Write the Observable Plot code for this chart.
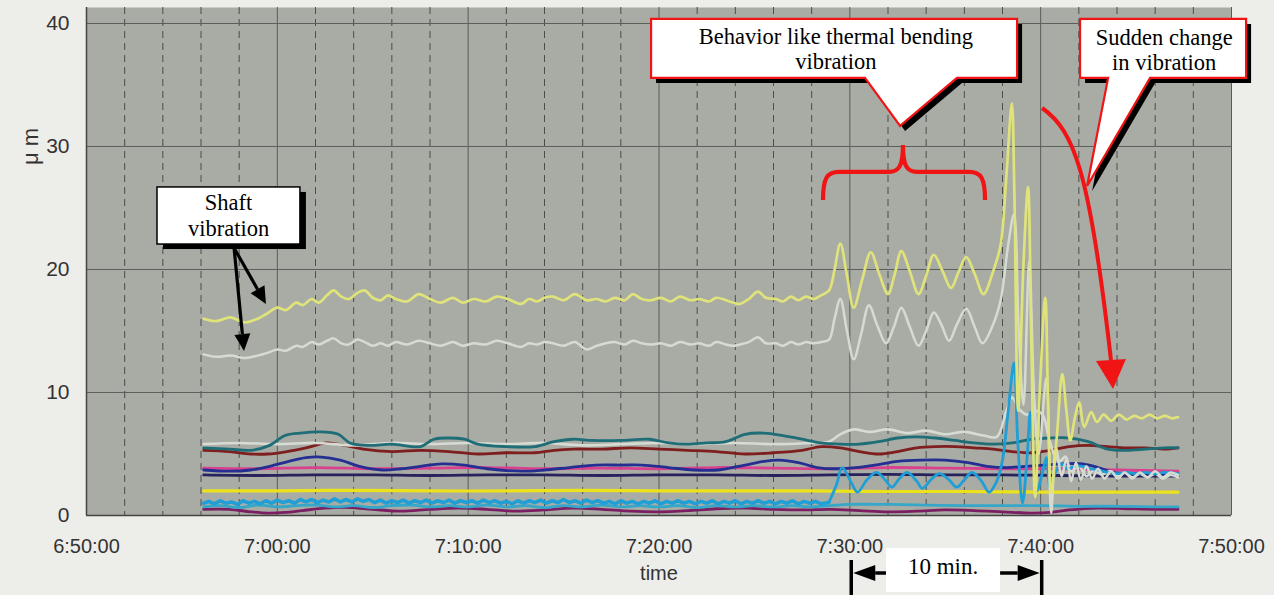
<!DOCTYPE html>
<html><head><meta charset="utf-8">
<script src="https://cdn.jsdelivr.net/npm/d3@7"></script>
<script src="https://cdn.jsdelivr.net/npm/@observablehq/plot@0.6"></script>
<style>
html,body{margin:0;padding:0;background:#ededea;}
#chart{width:1274px;height:595px;overflow:hidden;position:relative}
</style></head><body><div id="chart"></div>
<script>
// time = minutes after 6:50:00, value = vibration in μm
const xTickLabels = ["6:50:00","7:00:00","7:10:00","7:20:00","7:30:00","7:40:00","7:50:00"];
const xTickMinutes = [0,10,20,30,40,50,60];
const yTicks = [0,10,20,30,40];

const shaftYellow = [[6.14,16.0],[6.8,15.8],[7.55,16.1],[8.3,15.7],[8.97,16.0],[9.44,16.4],[10.0,16.9],[10.44,16.7],[11.0,17.3],[11.33,17.1],[11.8,17.6],[12.17,17.3],[12.6,17.9],[12.95,18.3],[13.35,17.8],[13.74,17.6],[14.2,18.1],[14.58,18.3],[15.0,17.7],[15.42,17.5],[15.8,17.9],[16.2,17.6],[16.8,17.4],[17.41,18.0],[18.0,17.6],[18.56,17.3],[19.2,17.7],[19.72,17.3],[20.3,17.6],[20.92,17.4],[21.5,17.8],[22.08,17.6],[22.76,17.2],[23.2,17.6],[23.6,17.4],[24.0,17.7],[24.44,17.8],[25.0,17.5],[25.59,18.0],[26.2,17.5],[26.74,17.6],[27.2,17.4],[27.69,17.7],[28.2,17.5],[28.63,18.0],[29.1,17.6],[29.58,17.5],[30.1,17.7],[30.62,17.4],[31.1,17.8],[31.67,17.5],[32.1,17.6],[32.62,17.4],[33.0,17.7],[33.51,17.5],[33.9,17.3],[34.24,17.2],[34.7,17.6],[35.19,18.2],[35.6,17.7],[36.13,17.6],[36.5,17.4],[36.92,17.8],[37.3,17.5],[37.7,17.8],[38.1,17.6],[38.49,17.9],[38.91,18.3],[39.2,20.0],[39.5,22.1],[39.85,19.5],[40.2,16.9],[40.65,19.2],[41.1,21.4],[41.55,19.6],[42.0,18.0],[42.35,19.6],[42.7,21.5],[43.15,19.8],[43.6,18.0],[44.0,19.5],[44.4,21.2],[44.85,19.9],[45.3,18.5],[45.7,19.8],[46.1,21.0],[46.55,19.6],[47.0,18.0],[47.5,19.8],[47.9,22.0],[48.2,27.5],[48.49,33.5],[48.62,26.4],[48.82,8.5],[49.1,20.5],[49.34,26.7],[49.5,15.0],[49.71,1.5],[49.95,10.0],[50.24,17.7],[50.4,8.0],[50.55,1.8],[50.85,6.5],[51.13,11.5],[51.35,8.5],[51.55,6.1],[51.8,8.0],[52.02,9.2],[52.28,7.2],[52.65,8.4],[52.95,7.6],[53.3,8.2],[53.7,7.7],[54.1,8.2],[54.5,7.8],[54.9,8.1],[55.3,7.9],[55.7,8.2],[56.1,7.9],[56.5,8.1],[56.9,7.9],[57.2,8.0]];

const shaftWhite = [[6.14,13.1],[6.8,12.9],[7.55,13.0],[8.3,12.8],[8.97,13.0],[9.44,13.2],[10.0,13.5],[10.44,13.4],[11.0,13.8],[11.33,13.7],[11.8,14.1],[12.17,13.9],[12.6,14.2],[12.95,14.4],[13.35,14.0],[13.74,13.9],[14.2,14.3],[14.58,14.1],[15.0,13.8],[15.42,14.0],[15.8,13.8],[16.2,14.1],[16.8,13.9],[17.41,14.2],[18.0,14.0],[18.56,13.8],[19.2,14.1],[19.72,13.8],[20.3,14.0],[20.92,13.9],[21.5,14.2],[22.08,14.0],[22.76,13.7],[23.2,14.0],[23.6,13.9],[24.0,14.1],[24.44,14.0],[25.0,13.8],[25.59,14.1],[26.2,13.5],[26.74,13.8],[27.2,14.0],[27.69,14.1],[28.2,13.9],[28.63,14.2],[29.1,14.0],[29.58,13.9],[30.1,14.0],[30.62,13.8],[31.1,14.1],[31.67,13.9],[32.1,14.0],[32.62,13.8],[33.0,14.1],[33.51,13.9],[33.9,13.8],[34.24,13.9],[34.7,14.1],[35.19,14.5],[35.6,14.0],[36.13,14.0],[36.5,13.8],[36.92,14.1],[37.3,13.9],[37.7,14.1],[38.1,14.0],[38.49,14.1],[38.91,14.3],[39.2,16.0],[39.5,17.6],[39.85,15.0],[40.2,12.7],[40.6,14.8],[41.0,17.1],[41.45,15.4],[41.9,14.0],[42.3,15.3],[42.7,16.9],[43.15,15.3],[43.6,13.8],[44.0,15.0],[44.4,16.5],[44.8,15.5],[45.2,14.2],[45.6,15.5],[46.1,16.8],[46.55,15.3],[46.95,14.0],[47.5,15.5],[47.9,17.5],[48.3,22.0],[48.6,24.5],[48.85,15.0],[49.1,9.0],[49.4,20.7],[49.65,10.0],[49.9,5.0],[50.3,11.2],[50.55,0.2],[50.8,5.5],[51.1,3.2],[51.35,4.6],[51.6,2.8],[51.85,4.3],[52.1,2.9],[52.4,4.0],[52.7,3.0],[53.0,3.8],[53.35,3.0],[53.7,3.6],[54.05,3.0],[54.4,3.5],[54.8,3.0],[55.2,3.5],[55.6,3.1],[56.0,3.6],[56.4,3.1],[56.8,3.5],[57.2,3.3]];

const lowWhite = [[6.14,5.8],[8,5.9],[10,5.8],[12,5.9],[14,5.7],[16,5.9],[18,5.8],[20,5.9],[22,5.8],[24,5.9],[26,5.7],[28,5.8],[30,5.9],[32,5.8],[34,5.9],[36,5.8],[38,5.9],[38.9,6.0],[39.5,6.6],[40.2,7.0],[41,6.8],[42,7.0],[43,6.7],[44,6.9],[45,6.6],[46,6.8],[47,6.5],[47.7,6.4],[48.2,8.5],[48.5,9.6],[48.9,8.6],[49.3,8.2],[49.7,8.5],[50.1,8.2],[50.4,6.5],[50.7,5.0],[51.0,4.4],[51.3,4.8],[51.6,3.6],[52.0,4.0],[52.4,3.2],[52.8,3.7],[53.2,3.3],[53.6,3.6],[54,3.2],[54.4,3.5],[54.8,3.1],[55.2,3.4],[55.6,3.1],[56.0,3.4],[56.4,3.0],[56.8,3.3],[57.2,3.1]];

const teal = [[6.14,5.5],[7.5,5.4],[8.6,5.3],[9.6,5.7],[10.4,6.5],[11.2,6.7],[12.2,6.8],[13.2,6.6],[13.8,5.9],[14.8,5.7],[16.0,5.8],[17.5,5.6],[18.2,6.2],[19.0,6.3],[19.8,6.2],[20.5,5.8],[22,5.6],[23.5,5.6],[24.5,6.0],[25.5,6.2],[26.5,6.1],[28,6.1],[29.5,6.2],[30.5,5.9],[31.5,5.8],[32.5,5.9],[33.5,6.0],[34.5,6.6],[35.5,6.7],[36.5,6.5],[37.5,6.2],[38.5,5.9],[39.5,5.8],[40.5,5.8],[41.5,6.0],[42.5,6.3],[43.5,6.4],[44.5,6.3],[45.5,6.1],[46.5,5.9],[47.5,5.8],[48.5,5.9],[49.5,6.2],[50.5,6.3],[51.5,6.3],[52.5,6.0],[53.5,5.4],[54.5,5.3],[55.5,5.4],[56.5,5.5],[57.2,5.5]];

const darkRed = [[6.14,5.3],[7.5,5.2],[8.6,5.0],[9.5,5.0],[10.5,5.2],[11.5,5.5],[12.6,5.9],[13.5,5.7],[14.5,5.4],[16,5.2],[17.5,5.3],[19,5.2],[20.5,5.0],[22,5.1],[23.5,5.1],[24.5,5.3],[25.5,5.4],[27,5.4],[28.5,5.5],[30,5.4],[31.5,5.3],[33,5.2],[34.5,5.0],[36,5.1],[37.5,5.3],[38.5,5.6],[39.5,5.5],[40.5,5.2],[41.5,5.0],[42.5,5.2],[43.5,5.5],[44.5,5.6],[45.5,5.6],[46.5,5.5],[47.5,5.4],[48.5,5.2],[49.5,5.1],[50.5,5.3],[51.5,5.6],[52.5,5.7],[53.5,5.6],[54.5,5.5],[55.5,5.5],[56.5,5.4],[57.2,5.5]];

const navyWave = [[6.14,3.7],[7.5,3.6],[8.6,3.7],[9.6,4.0],[10.6,4.4],[11.5,4.7],[12.3,4.75],[13.3,4.5],[14.3,4.0],[15.5,3.7],[16.5,3.8],[17.5,4.0],[18.6,4.2],[19.8,4.1],[21.0,3.8],[22.8,3.6],[24.0,3.7],[25.3,3.9],[26.7,4.1],[28.0,4.1],[29.1,4.1],[30.5,3.9],[31.8,3.7],[33.1,3.7],[34.5,4.1],[35.5,4.4],[36.3,4.5],[37.3,4.3],[38.3,3.9],[39.2,3.8],[40.3,3.9],[41.3,4.1],[42.5,4.4],[43.7,4.5],[45.0,4.5],[46.2,4.3],[47.2,4.0],[48.2,3.9],[49.2,4.0],[50.2,4.1],[51.2,4.2],[52.2,4.2],[53.0,3.9],[53.8,3.5],[54.6,3.4],[55.5,3.4],[56.4,3.4],[57.2,3.4]];

const magenta = [[6.14,3.85],[9,3.8],[12,3.9],[15,3.8],[18,3.85],[21,3.9],[24,3.8],[27,3.85],[30,3.8],[33,3.9],[36,3.85],[39,3.8],[42,3.9],[45,3.85],[48,3.8],[51,3.8],[54,3.7],[57.2,3.6]];

const navyFlat = [[6.14,3.3],[9,3.25],[12,3.3],[15,3.3],[18,3.25],[21,3.3],[24,3.3],[27,3.25],[30,3.3],[33,3.3],[36,3.25],[39,3.3],[42,3.35],[45,3.3],[48,3.3],[51,3.25],[54,3.2],[57.2,3.2]];

const yellow = [[6.14,2.0],[10,2.0],[14,2.05],[18,2.0],[22,2.0],[26,2.05],[30,2.0],[34,2.0],[38,2.0],[42,1.95],[46,1.95],[50,1.9],[54,1.9],[57.2,1.9]];

const cyanNoisy = [[6.14,1.0],[6.4,1.15],[6.7,0.95],[7.0,1.2],[7.3,1.0],[7.6,1.1],[7.9,0.9],[8.2,1.2],[8.5,1.0],[8.8,1.15],[9.1,0.95],[9.4,1.2],[9.7,1.0],[10.0,1.25],[10.3,1.05],[10.6,1.2],[10.9,1.0],[11.2,1.3],[11.5,1.1],[11.8,1.3],[12.1,1.05],[12.4,1.25],[12.7,1.1],[13.0,1.35],[13.3,1.1],[13.6,1.3],[13.9,1.1],[14.2,1.35],[14.5,1.15],[14.8,1.3],[15.1,1.05],[15.4,1.25],[15.7,1.0],[16.0,1.2],[16.3,1.05],[16.6,1.25],[16.9,1.0],[17.2,1.2],[17.5,1.05],[17.8,1.25],[18.1,1.0],[18.4,1.2],[18.7,1.05],[19.0,1.25],[19.3,1.0],[19.6,1.2],[19.9,1.05],[20.2,1.2],[20.5,1.0],[20.8,1.25],[21.1,1.05],[21.4,1.2],[21.7,1.0],[22.0,1.15],[22.3,0.95],[22.6,1.2],[22.9,1.0],[23.2,1.2],[23.5,1.05],[23.8,1.25],[24.1,1.0],[24.4,1.2],[24.7,1.05],[25.0,1.3],[25.3,1.05],[25.6,1.2],[25.9,1.0],[26.2,1.25],[26.5,1.05],[26.8,1.2],[27.1,1.0],[27.4,1.15],[27.7,0.95],[28.0,1.2],[28.3,1.0],[28.6,1.15],[28.9,0.95],[29.2,1.15],[29.5,1.0],[29.8,1.2],[30.1,0.95],[30.4,1.15],[30.7,1.0],[31.0,1.2],[31.3,1.0],[31.6,1.15],[31.9,0.95],[32.2,1.15],[32.5,1.0],[32.8,1.2],[33.1,0.95],[33.4,1.15],[33.7,1.0],[34.0,1.2],[34.3,0.95],[34.6,1.15],[34.9,1.0],[35.2,1.2],[35.5,1.0],[35.8,1.15],[36.1,0.95],[36.4,1.15],[36.7,1.0],[37.0,1.2],[37.3,0.95],[37.6,1.15],[37.9,1.0],[38.2,1.15],[38.5,0.95],[38.9,1.05],[39.3,2.5],[39.6,3.9],[40.1,2.6],[40.4,1.9],[40.9,2.9],[41.4,3.5],[41.9,2.8],[42.2,2.3],[42.6,3.0],[43.0,3.5],[43.5,2.8],[43.8,2.2],[44.3,3.0],[44.7,3.4],[45.2,2.9],[45.6,2.3],[46.0,2.9],[46.4,3.5],[46.9,2.8],[47.3,1.9],[47.7,2.8],[48.0,4.5],[48.3,8.5],[48.6,12.4],[48.8,6.0],[49.05,1.0],[49.3,5.0],[49.45,8.4],[49.6,5.0],[49.8,2.0],[50.1,3.5],[50.3,4.7],[50.5,2.3],[50.8,3.6],[51.1,4.2],[51.4,3.8],[51.8,4.0],[52.2,4.0],[52.6,3.8],[53.0,3.7],[53.5,3.5],[54,3.4],[54.5,3.5],[55,3.4],[55.5,3.5],[56,3.4],[56.5,3.5],[57.2,3.4]];

const cyanLow = [[6.14,0.7],[7,0.8],[8,0.65],[9,0.85],[10,0.7],[11,0.8],[12,0.85],[13,0.7],[14,0.8],[15,0.65],[16,0.8],[17,0.85],[18,0.7],[19,0.8],[20,0.7],[21,0.85],[22,0.7],[23,0.8],[24,0.65],[25,0.8],[26,0.7],[27,0.85],[28,0.7],[29,0.8],[30,0.7],[31,0.8],[32,0.65],[33,0.8],[34,0.7],[35,0.8],[36,0.7],[37,0.8],[38,0.7],[39,0.8],[40,0.9],[42,0.9],[44,0.85],[46,0.8],[48,0.8],[50,0.8],[52,0.75],[54,0.75],[56,0.7],[57.2,0.7]];

const purple = [[6.14,0.5],[7.5,0.5],[8.6,0.3],[9.5,0.2],[10.4,0.25],[11.3,0.4],[12.5,0.6],[13.8,0.65],[15,0.5],[16.5,0.35],[18,0.5],[19.5,0.6],[21,0.5],[22.5,0.35],[24,0.45],[25.5,0.6],[27,0.5],[28.5,0.35],[30,0.3],[31.5,0.4],[33,0.55],[34.5,0.6],[36,0.5],[37.5,0.45],[39,0.5],[40.5,0.4],[42,0.3],[43.5,0.35],[45,0.45],[46.5,0.4],[48,0.3],[49.5,0.2],[50.5,0.25],[51.5,0.45],[53,0.6],[54.5,0.55],[56,0.5],[57.2,0.5]];

// annotation anchors in data units [minutes after 6:50, μm]
const shaftBox = {t0:3.72, t1:11.21, vTop:26.67, vBot:22.03, tText:7.47, vLines:[24.8,22.72], lines:["Shaft","vibration"]};
const shaftArrowStart = [7.76, 21.71];
const shaftArrowTips = [[9.43,17.15],[8.28,13.33]];
const thermalBox = {t0:29.61, t1:48.79, vTop:40.33, vBot:35.53, pb0:40.82, pb1:45.64, tip:[42.66,31.63], tText:39.3, vLines:[38.29,36.22], lines:["Behavior like thermal bending","vibration"]};
const suddenBox = {t0:52.09, t1:60.79, vTop:40.33, vBot:35.53, pb0:53.56, pb1:55.76, tip:[52.46,26.75], tText:56.5, vLines:[38.21,36.14], lines:["Sudden change","in vibration"]};
const brace = {tL:38.62, tR:47.11, vEnd:25.61, vBar:27.89, tMid:42.81, vTip:30.08};
const redArrow = {start:[50.1,33.09], c1:[51.83,31.22], c2:[52.61,27.64], end:[53.71,12.6], tip:[53.82,10.24]};
const tenMin = {tBarL:40.1, tBarR:50.08, vBarTop:-3.66, vBarBot:-7, vLine:-4.72, box:[41.92,47.9,-2.68,-6.26], tText:44.91, vText:-4.8, label:"10 min."};

const T0 = Date.UTC(2000,0,1,6,50,0);
const toDate = m => new Date(T0 + m*60000);
const rows = arr => arr.map(([t,v]) => ({time: toDate(t), value: v}));

const series = [
  {d: purple, c:"#7b1f62", w:2.8},
  {d: cyanLow, c:"#36a7c9", w:2.8},
  {d: yellow, c:"#ece21c", w:3.2},
  {d: navyFlat, c:"#27215e", w:2.8},
  {d: magenta, c:"#d8418d", w:2.8},
  {d: navyWave, c:"#252f91", w:2.8},
  {d: darkRed, c:"#7e1e1e", w:2.8},
  {d: lowWhite, c:"#d6dbd4", w:2.6},
  {d: teal, c:"#1e6d77", w:2.8},
];

const minor = d3.range(0, 61, 2).filter(m => m % 10 !== 0).map(toDate);
const major = xTickMinutes.map(toDate);

const chart = Plot.plot({
  width: 1274, height: 595,
  marginLeft: 86, marginRight: 43, marginTop: 7, marginBottom: 80,
  x: {type: "utc", domain: [toDate(0), toDate(60)]},
  y: {domain: [0, 41.3]},
  style: {background: "transparent", fontFamily: "'Liberation Sans', Arial, sans-serif", color: "#333", overflow: "visible"},
  marks: [
    Plot.frame({fill: "#a8aca5", stroke: null}),
    Plot.ruleX(minor, {stroke: "#4b4d4a", strokeWidth: 1, strokeDasharray: "7,5"}),
    Plot.ruleX(major, {stroke: "#5a5c58", strokeWidth: 1}),
    Plot.ruleY([10,20,30,40], {stroke: "#5e605c", strokeWidth: 1}),
    ...series.map(s => Plot.line(rows(s.d), {x: "time", y: "value", stroke: s.c, strokeWidth: s.w, curve: "catmull-rom"})),
    Plot.line(rows(cyanNoisy.filter(d => d[0] <= 38.95)), {x: "time", y: "value", stroke: "#1f9fd6", strokeWidth: 3.6, curve: "linear"}),
    Plot.line(rows(cyanNoisy.filter(d => d[0] >= 38.85)), {x: "time", y: "value", stroke: "#1f9fd6", strokeWidth: 2.8, curve: "catmull-rom"}),
    Plot.line(rows(shaftWhite), {x: "time", y: "value", stroke: "#d6dbd2", strokeWidth: 2.5, curve: "catmull-rom"}),
    Plot.line(rows(shaftYellow), {x: "time", y: "value", stroke: "#dfe37a", strokeWidth: 2.7, curve: "catmull-rom"}),
    Plot.ruleX([toDate(0)], {stroke: "#444", strokeWidth: 1.5}),
    Plot.ruleY([0], {stroke: "#444", strokeWidth: 1.5}),
    Plot.axisY({ticks: yTicks, tickSize: 0, tickPadding: 17, fontSize: 21, label: null}),
    Plot.axisX({ticks: major, tickFormat: (d, i) => xTickLabels[i], tickSize: 0, tickPadding: 23, fontSize: 20, label: null}),
    Plot.text(["time"], {frameAnchor: "bottom", dy: 64, fontSize: 20}),
    Plot.text(["μ m"], {x: toDate(0), y: 30, dx: -56, rotate: -90, fontSize: 22})
  ]
});

// ---- annotations (anchored in data units via the chart scales) ----
const sx = chart.scale("x"), sy = chart.scale("y");
const X = m => sx.apply(toDate(m)), Y = v => sy.apply(v);
const svg = d3.select(chart);
const g = svg.append("g");
const serif = "'Liberation Serif','Times New Roman',serif";
const RED = "#f01414";

function arrow(x1, y1, x2, y2, color, width, len, half) {
  const a = Math.atan2(y2 - y1, x2 - x1);
  const bx = x2 - len * Math.cos(a), by = y2 - len * Math.sin(a);
  g.append("line").attr("x1", x1).attr("y1", y1).attr("x2", bx).attr("y2", by)
    .attr("stroke", color).attr("stroke-width", width);
  g.append("path").attr("d", `M${x2},${y2}L${bx + half*Math.sin(a)},${by - half*Math.cos(a)}L${bx - half*Math.sin(a)},${by + half*Math.cos(a)}Z`)
    .attr("fill", color);
}
function textLines(b) {
  b.lines.forEach((s, i) => g.append("text").attr("text-anchor", "middle").attr("font-family", serif)
    .attr("font-size", 22.5).attr("fill", "#000").attr("x", X(b.tText)).attr("y", Y(b.vLines[i])).text(s));
}
function callout(b) {
  const x0 = X(b.t0), x1 = X(b.t1), y0 = Y(b.vTop), y1 = Y(b.vBot);
  const d = `M${x0},${y0}L${x1},${y0}L${x1},${y1}L${X(b.pb1)},${y1}L${X(b.tip[0])},${Y(b.tip[1])}L${X(b.pb0)},${y1}L${x0},${y1}Z`;
  g.append("path").attr("d", d).attr("fill", "#000").attr("transform", "translate(5,5)");
  g.append("path").attr("d", d).attr("fill", "#fff").attr("stroke", RED).attr("stroke-width", 2.2).attr("stroke-linejoin", "miter");
  textLines(b);
}

// shaft vibration box
{
  const b = shaftBox, x0 = X(b.t0), x1 = X(b.t1), y0 = Y(b.vTop), y1 = Y(b.vBot);
  g.append("rect").attr("x", x0 + 6).attr("y", y0 + 5).attr("width", x1 - x0).attr("height", y1 - y0).attr("fill", "#000");
  g.append("rect").attr("x", x0).attr("y", y0).attr("width", x1 - x0).attr("height", y1 - y0)
    .attr("fill", "#fff").attr("stroke", "#000").attr("stroke-width", 1.5);
  textLines(b);
  shaftArrowTips.forEach(([t, v]) => arrow(X(shaftArrowStart[0]), Y(shaftArrowStart[1]), X(t), Y(v), "#000", 3.2, 17, 8));
}
callout(thermalBox);
callout(suddenBox);

// brace
{
  const b = brace, xl = X(b.tL), xr = X(b.tR), xm = X(b.tMid), ye = Y(b.vEnd), yb = Y(b.vBar), yt = Y(b.vTip);
  const r = 16;
  const d = `M${xl},${ye}C${xl},${yb+6} ${xl+4},${yb} ${xl+r},${yb}L${xm-r+2},${yb}C${xm-4},${yb} ${xm},${yb-6} ${xm},${yt}` +
            `C${xm},${yb-6} ${xm+4},${yb} ${xm+r-2},${yb}L${xr-r},${yb}C${xr-4},${yb} ${xr},${yb+6} ${xr},${ye}`;
  g.append("path").attr("d", d).attr("fill", "none").attr("stroke", RED).attr("stroke-width", 4.2).attr("stroke-linecap", "butt");
}

// red curved arrow
{
  const a = redArrow;
  const [sx0, sy0] = [X(a.start[0]), Y(a.start[1])];
  const [ex, ey] = [X(a.end[0]), Y(a.end[1])];
  const [tx, ty] = [X(a.tip[0]), Y(a.tip[1])];
  g.append("path").attr("d", `M${sx0},${sy0}C${X(a.c1[0])},${Y(a.c1[1])} ${X(a.c2[0])},${Y(a.c2[1])} ${ex},${ey}`)
    .attr("fill", "none").attr("stroke", RED).attr("stroke-width", 4);
  const ang = Math.atan2(ty - ey, tx - ex), half = 15;
  g.append("path").attr("d", `M${tx},${ty}L${ex + half*Math.sin(ang)},${ey - half*Math.cos(ang)}L${ex - half*Math.sin(ang)},${ey + half*Math.cos(ang)}Z`).attr("fill", RED);
}

// 10 min dimension
{
  const m = tenMin, xl = X(m.tBarL), xr = X(m.tBarR), yl = Y(m.vLine);
  g.append("line").attr("x1", xl).attr("x2", xl).attr("y1", Y(m.vBarTop)).attr("y2", Y(m.vBarBot)).attr("stroke", "#000").attr("stroke-width", 3.5);
  g.append("line").attr("x1", xr).attr("x2", xr).attr("y1", Y(m.vBarTop)).attr("y2", Y(m.vBarBot)).attr("stroke", "#000").attr("stroke-width", 3.5);
  arrow((xl + xr) / 2, yl, xl + 2, yl, "#000", 3.5, 22, 8);
  arrow((xl + xr) / 2, yl, xr - 2, yl, "#000", 3.5, 22, 8);
  const [b0, b1, bt, bb] = m.box;
  g.append("rect").attr("x", X(b0)).attr("y", Y(bt)).attr("width", X(b1) - X(b0)).attr("height", Y(bb) - Y(bt)).attr("fill", "#fff");
  g.append("text").attr("x", X(m.tText)).attr("y", Y(m.vText)).attr("text-anchor", "middle")
    .attr("font-family", serif).attr("font-size", 23).attr("fill", "#000").text(m.label);
}

document.getElementById("chart").appendChild(chart);
</script>
</body></html>
